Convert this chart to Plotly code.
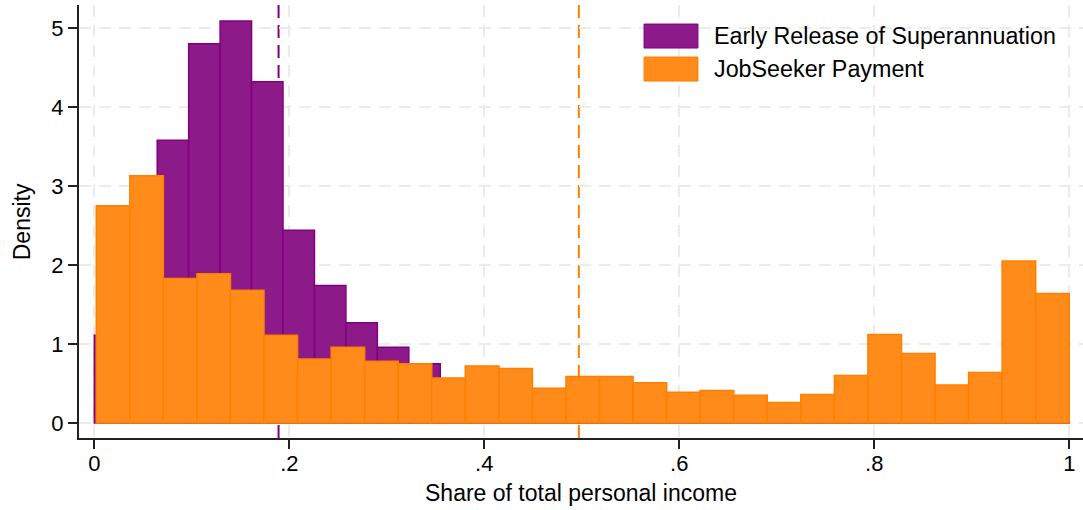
import numpy as np
import plotly.graph_objects as go

# Histogram densities by bin (share of total personal income)
super_name = "Early Release of Superannuation"
super_range = (0.0, 1.0)
super_density = [1.11, 2.30, 3.58, 4.80, 5.09, 4.32, 2.44, 1.74, 1.27, 0.96,
                 0.75, 0.50, 0.40, 0.30, 0.25, 0.20, 0.15, 0.12, 0.10, 0.10,
                 0.08, 0.07, 0.06, 0.05, 0.05, 0.04, 0.04, 0.03, 0.03, 0.03,
                 0.10]
super_mean = 0.189

jobseeker_name = "JobSeeker Payment"
jobseeker_range = (0.002, 1.0)
jobseeker_density = [2.75, 3.13, 1.83, 1.89, 1.68, 1.11, 0.81, 0.96, 0.78, 0.75,
                     0.57, 0.72, 0.69, 0.44, 0.59, 0.59, 0.51, 0.39, 0.41, 0.35,
                     0.26, 0.36, 0.60, 1.12, 0.88, 0.48, 0.64, 2.05, 1.64]
jobseeker_mean = 0.497

x_tickvals = [0, 0.2, 0.4, 0.6, 0.8, 1.0]
x_ticktext = ["0", ".2", ".4", ".6", ".8", "1"]
y_tickvals = [0, 1, 2, 3, 4, 5]

PURPLE_FILL = "rgb(141,26,137)"
PURPLE_LINE = "rgb(128,0,128)"
ORANGE_FILL = "rgb(255,140,26)"
ORANGE_LINE = "rgb(255,127,0)"
FONT = "Liberation Sans, Arial, sans-serif"


def bins(rng, values):
    edges = np.linspace(rng[0], rng[1], len(values) + 1)
    centers = (edges[:-1] + edges[1:]) / 2
    widths = np.diff(edges)
    return centers, widths


fig = go.Figure()
for name, rng, dens, fill, line in [
    (super_name, super_range, super_density, PURPLE_FILL, PURPLE_LINE),
    (jobseeker_name, jobseeker_range, jobseeker_density, ORANGE_FILL, ORANGE_LINE),
]:
    cx, w = bins(rng, dens)
    fig.add_trace(go.Bar(
        x=cx, y=dens, width=w, name=name, showlegend=False,
        marker=dict(color=fill, line=dict(color=line, width=1.5)),
    ))

# Mean markers, drawn above the grid but behind the bars
for m, col in [(super_mean, PURPLE_LINE), (jobseeker_mean, ORANGE_LINE)]:
    fig.add_shape(type="line", xref="x", yref="paper", x0=m, x1=m, y0=0, y1=1,
                  line=dict(color=col, width=2, dash="13px,7px"), layer="between")

# Legend panel
fig.add_shape(type="rect", xref="paper", yref="paper", x0=0.556, x1=1.0,
              y0=0.804, y1=0.982, fillcolor="white", line=dict(width=0),
              layer="between")
legend_items = [(super_name, PURPLE_FILL, PURPLE_LINE),
                (jobseeker_name, ORANGE_FILL, ORANGE_LINE)]
for i, (name, fill, line) in enumerate(legend_items):
    top = 0.956 - i * 0.0762
    fig.add_shape(type="rect", xref="paper", yref="paper",
                  x0=0.5628, x1=0.6165, y0=top - 0.0554, y1=top,
                  fillcolor=fill, line=dict(color=line, width=1), layer="above")
    fig.add_annotation(xref="paper", yref="paper", x=0.6300, y=top - 0.0277,
                       text=name, showarrow=False, xanchor="left", yanchor="middle",
                       font=dict(family=FONT, size=23.3, color="black"))

# Axis titles
fig.add_annotation(xref="paper", yref="paper", x=0.5, y=-0.127,
                   text="Share of total personal income", showarrow=False,
                   xanchor="center", yanchor="middle",
                   font=dict(family=FONT, size=23, color="black"))
fig.add_annotation(xref="paper", yref="paper", x=-0.057, y=0.5,
                   text="Density", showarrow=False, textangle=-90,
                   xanchor="center", yanchor="middle",
                   font=dict(family=FONT, size=23, color="black"))

fig.update_layout(
    width=1083, height=510,
    margin=dict(l=79, r=0, t=5, b=72),
    barmode="overlay",
    plot_bgcolor="white", paper_bgcolor="white",
    font=dict(family=FONT, size=22, color="black"),
    xaxis=dict(
        range=[-0.0157, 1.0141], tickvals=x_tickvals, ticktext=x_ticktext,
        showline=True, linecolor="#222", linewidth=2,
        ticks="outside", ticklen=9, tickwidth=1.5, tickcolor="#222",
        ticklabelstandoff=-4,
        showgrid=True, gridcolor="#EBEBEB", gridwidth=2, griddash="12px,8px",
        zeroline=False, tickfont=dict(family=FONT, size=22),
    ),
    yaxis=dict(
        range=[-0.19, 5.291], tickvals=y_tickvals,
        showline=True, linecolor="#222", linewidth=2,
        ticks="outside", ticklen=9, tickwidth=1.5, tickcolor="#222",
        showgrid=True, gridcolor="#EBEBEB", gridwidth=2, griddash="12px,8px",
        zeroline=False, tickfont=dict(family=FONT, size=22),
    ),
)

fig.write_html("out.html")
